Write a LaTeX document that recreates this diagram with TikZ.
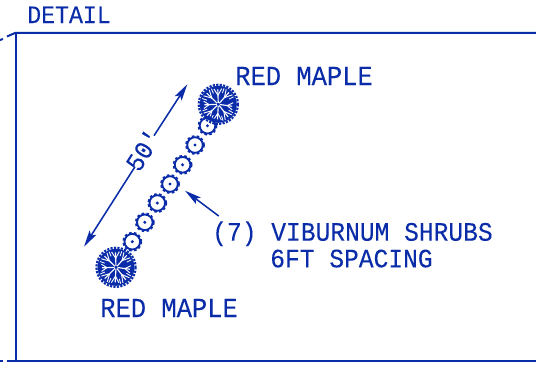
\documentclass[tikz,border=0pt]{standalone}
\usepackage{fontspec}
\usepackage{graphicx}
\newfontfamily\cadfont[FakeBold=0.12]{Liberation Mono}
\usetikzlibrary{arrows.meta}
\definecolor{cad}{HTML}{0A2CA8}
\newcommand{\tallbox}[1]{\scalebox{1}[1.08]{#1}}
\tikzset{
  x=0.75pt,y=-0.75pt,
  cadline/.style={draw=cad,line width=1.5pt},
  dimline/.style={draw=cad,line width=1.15pt,-{Stealth[length=12.5pt,width=6pt,inset=2.5pt]}},
  lead/.style={draw=cad,line width=1.15pt,-{Stealth[length=12.5pt,width=6pt,inset=2.5pt]}},
  treetext/.style={text=cad,inner sep=0pt,font=\cadfont\fontsize{19.1}{21}\selectfont},
  bigtext/.style={text=cad,inner sep=0pt,font=\cadfont\fontsize{18.45}{21}\selectfont},
  dimtext/.style={text=cad,inner sep=0pt,font=\cadfont\fontsize{18}{21}\selectfont},
  smalltext/.style={text=cad,inner sep=0pt,font=\cadfont\fontsize{17.4}{20}\selectfont},
  shrub/.pic={
    \draw[cad,line width=1.4pt] (0,0) circle[radius=7.8];
    \draw[cad,line width=1.4pt,dash pattern=on 1.9pt off 1.75pt] (0,0) circle[radius=9];
    \fill[cad] (0,0) circle[radius=1.7];
  },
  tree/.pic={
    \fill[cad] (0,0) circle[radius=18.5];
    \draw[cad,line width=1.6pt,dash pattern=on 1.6pt off 1pt] (0,0) circle[radius=19.6];
    \foreach \a/\r in {8/14,52/16,93/15,135/16,178/14,224/16,268/15,312/16}{
      \draw[white,line width=0.85pt] (\a:1.5) -- (\a:\r);
      \draw[white,line width=0.7pt] (\a:9) -- (\a+14:\r+1);
      \draw[white,line width=0.7pt] (\a:9) -- (\a-14:\r+1);
      \draw[white,line width=0.6pt] (\a+22:12) -- (\a+22:17);
    }
    \fill[cad] (0,0) circle[radius=0.8];
  },
}
\begin{document}
\begin{tikzpicture}
\useasboundingbox (0,0) rectangle (536,369);
% frame
\coordinate (tl) at (15.5,32.8);
\coordinate (tr) at (536,32.8);
\coordinate (bl) at (15.5,361);
\coordinate (br) at (536,361);
\coordinate (tlstub) at (7,36.5);
\coordinate (blstub) at (7,361);
\draw[cadline] (tlstub) -- (tl) -- (tr);
\draw[cadline] (tl) -- (bl);
\draw[cadline] (blstub) -- (br);
\draw[cadline] (0,40) -- (3,39);
\draw[cadline] (0,361) -- (3,361);
\node[smalltext,anchor=base west] (detail) at (27,23) {\tallbox{DETAIL}};
% plants
\path (218.3,104.3) pic {tree};
\path (116,267.3) pic {tree};
\foreach \x/\y in {132.3/241.7,144.8/222.3,157.3/203,170/184,182.6/164.8,195/145,207.5/125.7}{
  \path (\x,\y) pic {shrub};
}
% labels
\node[treetext,anchor=base west] (rm1) at (235,85) {\tallbox{RED MAPLE}};
\node[treetext,anchor=base west] (rm2) at (100,317) {\tallbox{RED MAPLE}};
\node[bigtext,anchor=base west] (vib1) at (212,240.7) {\tallbox{(7) VIBURNUM SHRUBS}};
\node[bigtext,anchor=base west] (vib2) at (270,267.3) {\tallbox{6FT SPACING}};
\node[dimtext,rotate=57.5,anchor=center] (dim) at (143,150) {\tallbox{50'}};
% dimension
\coordinate (dimtop) at (187.3,84.3);
\coordinate (dimbot) at (84,246.7);
\coordinate (gaptop) at (154,135.7);
\coordinate (gapbot) at (135,166.7);
\draw[dimline] (gaptop) -- (dimtop);
\draw[dimline] (gapbot) -- (dimbot);
% leader
\coordinate (leadstart) at (218.7,216);
\coordinate (leadtip) at (185,190.7);
\draw[lead] (leadstart) -- (leadtip);
\end{tikzpicture}
\end{document}
